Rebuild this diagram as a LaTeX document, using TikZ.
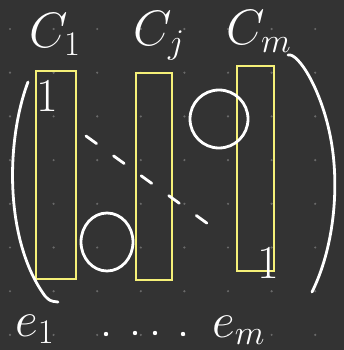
\documentclass[tikz,border=0pt]{standalone}
\usepackage{xcolor}
\usepackage{graphicx}
\usepackage{amsmath}
\usepackage{tikz}
\usetikzlibrary{calc}
\definecolor{board}{HTML}{333333}
\definecolor{marker}{HTML}{F5F078}
\definecolor{griddot}{HTML}{6A6A6A}
\tikzset{colbox/.style={draw=marker, line width=2.2pt, inner sep=0, outer sep=0}}
\tikzset{hand/.style={white, line width=2.8pt, line cap=round, line join=round}}
\tikzset{chalk/.style={text=white, inner sep=0, font=\Huge}}
\newcommand{\handsize}[1]{\scalebox{2.0}{#1}}

\begin{document}
\begin{tikzpicture}[x=1pt,y=-1pt]
\fill[board] (0,0) rectangle (344,350);
\useasboundingbox (0,0) rectangle (344,350);
\foreach \i in {0,...,7} {
 \foreach \j in {0,...,7} {
  \fill[griddot] (10+43.6*\i,29+43.7*\j) circle (1.2);
 }
}
\node[colbox, minimum width=40, minimum height=208] (col1) at (56,175) {};
\node[colbox, minimum width=36, minimum height=207] (colj) at (154,176.5) {};
\node[colbox, minimum width=37, minimum height=205] (colm) at (255.5,168.5) {};
\node[chalk, anchor=base west] (c1) at (29,48) {\handsize{$C_{\scriptscriptstyle 1}$}};
\node[chalk, anchor=base west] (cj) at (133,46) {\handsize{$C_{\scriptscriptstyle j}$}};
\node[chalk, anchor=base west] (cm) at (226,45) {\handsize{$C_{\scriptscriptstyle m}$}};
\node[chalk] (one1) at (47,96) {\scalebox{1.9}{$1$}};
\node[chalk] (one2) at (268,263) {\scalebox{1.9}{$1$}};
\node[chalk, anchor=base west] (e1) at (15,336) {\handsize{$e_{\scriptscriptstyle 1}$}};
\node[chalk, anchor=base west] (em) at (212,337) {\handsize{$e_{\scriptscriptstyle m}$}};
\foreach \x/\y in {106/334, 135/333, 155/333, 183/334} {
 \fill[white] (\x,\y) circle (2.2);
}
\draw[hand] (28,82) .. controls (6,140) and (4,240) .. (45,296) .. controls (50,301) .. (58,302);
\draw[hand] (288,55) .. controls (298,52) and (322,90) .. (331,140) .. controls (340,190) and (333,250) .. (312,292);
\draw[hand, dash pattern=on 13pt off 21pt] (86,136) -- (215,229);
\draw[hand] (219,119) ellipse (29 and 29);
\draw[hand] (107,242) ellipse (26 and 29);
\end{tikzpicture}
\end{document}
